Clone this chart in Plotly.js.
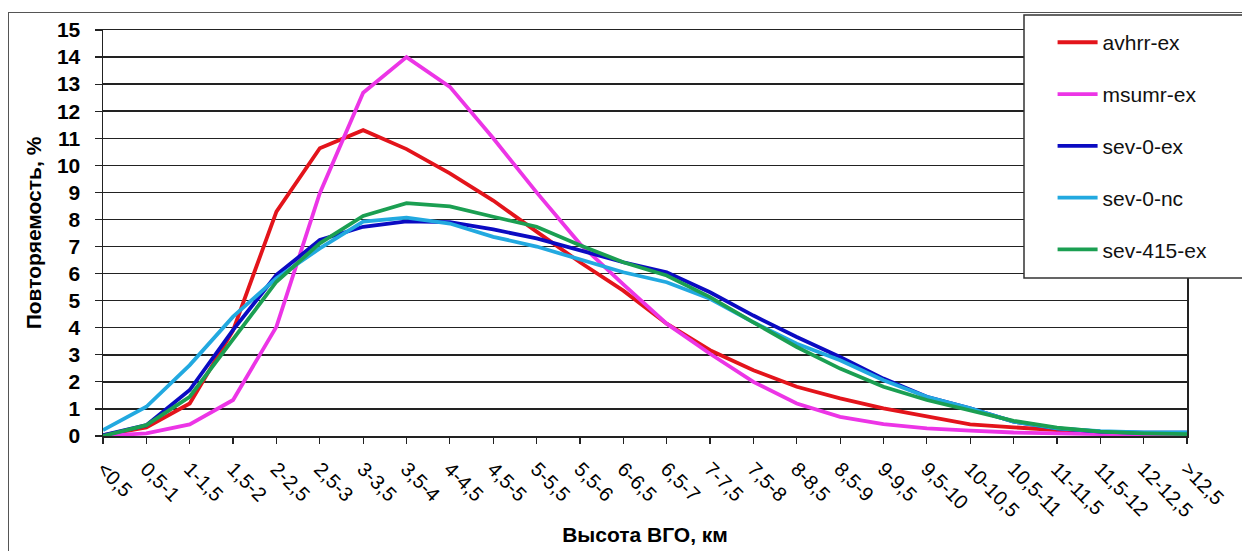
<!DOCTYPE html>
<html>
<head>
<meta charset="utf-8">
<script src="https://cdn.plot.ly/plotly-3.0.1.min.js"></script>
<style>
  html, body { margin: 0; padding: 0; background: #ffffff; }
  #frame { position: absolute; left: 8px; top: 12px; width: 1300px; height: 600px; border: 1.5px solid #555; box-sizing: border-box; }
  #chart { position: absolute; left: 0; top: 0; width: 1242px; height: 551px; }
</style>
</head>
<body>
<div id="frame"></div>
<div id="chart"></div>
<script>
const categories = ["<0,5","0,5-1","1-1,5","1,5-2","2-2,5","2,5-3","3-3,5","3,5-4","4-4,5","4,5-5",
  "5-5,5","5,5-6","6-6,5","6,5-7","7-7,5","7,5-8","8-8,5","8,5-9","9-9,5","9,5-10",
  "10-10,5","10,5-11","11-11,5","11,5-12","12-12,5",">12,5"];

const avhrrEx   = [0.03,0.32,1.2,3.9,8.29,10.63,11.3,10.6,9.7,8.7,7.55,6.42,5.37,4.15,3.17,2.43,1.82,1.39,1.02,0.71,0.43,0.32,0.22,0.12,0.07,0.06];
const msumrEx   = [0.0,0.1,0.43,1.33,4.04,8.97,12.68,14.0,12.9,11.0,9.0,7.1,5.6,4.15,3.04,2.0,1.2,0.71,0.44,0.28,0.2,0.13,0.1,0.06,0.04,0.04];
const sev0Ex    = [0.03,0.4,1.7,3.92,5.95,7.24,7.73,7.93,7.9,7.63,7.3,6.87,6.42,6.05,5.31,4.45,3.66,2.92,2.12,1.45,1.02,0.53,0.28,0.16,0.12,0.12];
const sev0Nc    = [0.22,1.08,2.62,4.41,5.83,6.93,7.92,8.07,7.85,7.36,7.0,6.54,6.05,5.68,5.07,4.2,3.41,2.8,2.06,1.45,1.02,0.53,0.28,0.18,0.13,0.13];
const sev415Ex  = [0.0,0.4,1.45,3.6,5.7,7.12,8.13,8.6,8.48,8.1,7.73,7.05,6.42,5.93,5.13,4.2,3.29,2.49,1.82,1.33,0.96,0.56,0.31,0.16,0.1,0.07];

const seriesNames = ["avhrr-ex","msumr-ex","sev-0-ex","sev-0-nc","sev-415-ex"];
const seriesData = [avhrrEx, msumrEx, sev0Ex, sev0Nc, sev415Ex];
const seriesColors = ["#e3141b","#ec35e6","#0b0bc2","#22a9e0","#1b9f52"];

const FONT = "Liberation Sans, Arial, sans-serif";

const traces = seriesNames.map((name, i) => ({
  type: "scatter",
  mode: "lines",
  name: name,
  legendgroup: name,
  x: categories,
  y: seriesData[i],
  line: { color: seriesColors[i], width: 3.8 },
  hoverinfo: "skip"
}));

const layout = {
  width: 1242,
  height: 551,
  margin: { l: 103, r: 55, t: 30, b: 115 },
  paper_bgcolor: "rgba(0,0,0,0)",
  plot_bgcolor: "#ffffff",
  showlegend: true,
  legend: {
    x: 0.876, y: 1.0195, xanchor: "left", yanchor: "top",
    bgcolor: "rgba(0,0,0,0)", borderwidth: 0,
    font: { family: FONT, size: 21, color: "#111" },
    tracegroupgap: 21.5,
    itemwidth: 40
  },
  xaxis: {
    type: "category",
    range: [0, 25],
    showgrid: false,
    showline: true, linecolor: "#222", linewidth: 1.5, mirror: true,
    ticks: "outside", ticklen: 6, tickcolor: "#222", tickwidth: 1.2,
    tickangle: 45,
    ticklabelstandoff: 6,
    tickfont: { family: FONT, size: 20, color: "#000" },
    title: { text: "Высота ВГО, км", font: { family: FONT, size: 21, color: "#000", weight: "bold" }, standoff: 7 },
    zeroline: false,
    fixedrange: true
  },
  yaxis: {
    range: [0, 15],
    dtick: 1,
    showgrid: true, gridcolor: "#222", gridwidth: 1.5,
    showline: true, linecolor: "#222", linewidth: 1.5, mirror: true,
    ticks: "outside", ticklen: 7, tickcolor: "#222", tickwidth: 1.2,
    tickfont: { family: FONT, size: 21, color: "#000", weight: "bold" },
    ticklabelstandoff: 10,
    title: { text: "Повторяемость, %", font: { family: FONT, size: 21, color: "#000", weight: "bold" }, standoff: 9 },
    zeroline: false,
    fixedrange: true
  },
  shapes: [{
    type: "rect", xref: "paper", yref: "paper", layer: "above",
    x0: (1024 - 103) / 1084, x1: (1250 - 103) / 1084,
    y0: (436 - 278) / 406, y1: (436 - 15) / 406,
    fillcolor: "#ffffff",
    line: { color: "#333", width: 1.5 }
  }]
};

Plotly.newPlot("chart", traces, layout, { displayModeBar: false, staticPlot: true });
</script>
</body>
</html>
